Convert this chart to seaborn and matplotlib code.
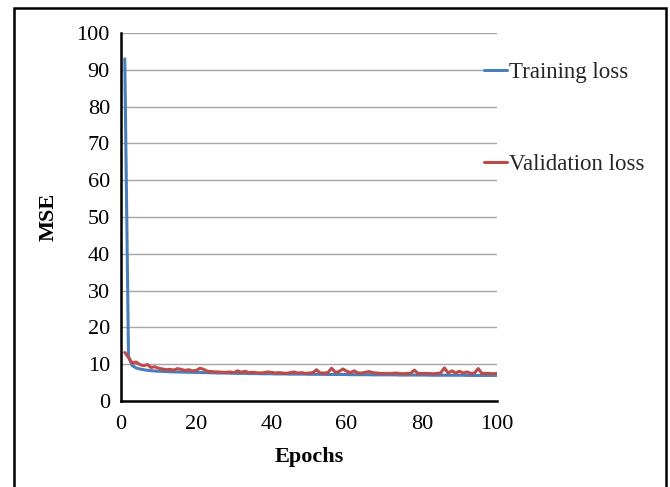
import numpy as np
import pandas as pd
import matplotlib
matplotlib.use("Agg")
import matplotlib.pyplot as plt
import matplotlib.patches as patches
import seaborn as sns

# Values (epochs 1..100)
epochs = list(range(1, 101))
training_loss = [
    93.0, 12.0, 9.6, 9.0, 8.7, 8.5, 8.35, 8.25, 8.15, 8.1,
    8.05, 8.0, 7.95, 7.9, 7.9, 7.85, 7.85, 7.8, 7.8, 7.75,
    7.75, 7.7, 7.7, 7.65, 7.65, 7.6, 7.6, 7.6, 7.55, 7.55,
    7.5, 7.5, 7.5, 7.45, 7.45, 7.45, 7.4, 7.4, 7.4, 7.4,
    7.35, 7.35, 7.35, 7.35, 7.3, 7.3, 7.3, 7.3, 7.3, 7.25,
    7.25, 7.25, 7.25, 7.25, 7.2, 7.2, 7.2, 7.2, 7.2, 7.2,
    7.15, 7.15, 7.15, 7.15, 7.15, 7.15, 7.1, 7.1, 7.1, 7.1,
    7.1, 7.1, 7.1, 7.05, 7.05, 7.05, 7.05, 7.05, 7.05, 7.05,
    7.05, 7.0, 7.0, 7.0, 7.0, 7.0, 7.0, 7.0, 7.0, 7.0,
    7.0, 6.95, 6.95, 6.95, 6.95, 6.95, 6.95, 6.95, 6.95, 6.95,
]
validation_loss = [
    13.2, 11.8, 10.3, 10.6, 9.9, 9.6, 9.9, 9.1, 9.3, 8.9,
    8.7, 8.5, 8.6, 8.4, 8.8, 8.6, 8.3, 8.5, 8.2, 8.3,
    8.9, 8.6, 8.1, 8.0, 7.9, 7.9, 7.8, 7.8, 7.9, 7.7,
    8.2, 7.8, 8.1, 7.7, 7.8, 7.7, 7.6, 7.7, 7.9, 7.8,
    7.6, 7.7, 7.6, 7.5, 7.7, 7.9, 7.6, 7.7, 7.5, 7.6,
    7.7, 8.5, 7.6, 7.6, 7.7, 8.9, 7.8, 8.0, 8.7, 8.1,
    7.7, 8.2, 7.6, 7.6, 7.8, 8.0, 7.7, 7.6, 7.5, 7.5,
    7.5, 7.5, 7.6, 7.5, 7.4, 7.5, 7.5, 8.4, 7.5, 7.5,
    7.5, 7.5, 7.4, 7.5, 7.6, 9.0, 7.6, 8.2, 7.6, 8.1,
    7.6, 7.9, 7.5, 7.6, 8.8, 7.5, 7.5, 7.5, 7.4, 7.5,
]
series_names = ["Training loss", "Validation loss"]
colors = ["#4A7EBB", "#BE4B48"]

df = pd.DataFrame({
    "Epochs": epochs * 2,
    "MSE": training_loss + validation_loss,
    "series": [series_names[0]] * len(epochs) + [series_names[1]] * len(epochs),
})

sns.set_theme(style="white")
plt.rcParams["font.family"] = ["Liberation Serif", "DejaVu Serif"]

fig = plt.figure(figsize=(6.7, 4.87), dpi=100)
ax = fig.add_axes([0.1806, 0.1766, 0.5612, 0.7556])

sns.lineplot(data=df, x="Epochs", y="MSE", hue="series", palette=colors,
             linewidth=2.2, ax=ax)

ax.set_xlim(0, 100)
ax.set_ylim(0, 100)
ax.set_xticks(range(0, 101, 20))
ax.set_yticks(range(0, 101, 10))
ax.yaxis.grid(True, color="#a6a6a6", linewidth=1.0)
ax.set_axisbelow(True)

for side in ["top", "right"]:
    ax.spines[side].set_visible(False)
for side in ["left", "bottom"]:
    ax.spines[side].set_color("black")
    ax.spines[side].set_linewidth(1.8)

ax.tick_params(axis="both", direction="out", length=5, width=1.8,
               colors="black", labelsize=16, pad=5)
ax.tick_params(axis="y", pad=3)

ax.set_xlabel("Epochs", fontsize=16, fontweight="bold", color="black")
ax.set_ylabel("MSE", fontsize=16, fontweight="bold", color="black")
ax.xaxis.set_label_coords(0.5, -0.125)
ax.yaxis.set_label_coords(-0.165, 0.5)

leg = ax.legend(loc="upper left", bbox_to_anchor=(0.722, 0.872),
                bbox_transform=fig.transFigure, frameon=False,
                fontsize=16.5, handlelength=1.0, handletextpad=0.1,
                labelspacing=3.1, borderpad=0, borderaxespad=0)
for line in leg.get_lines():
    line.set_linewidth(2.2)

# outer frame around the figure
fig.patches.append(patches.Rectangle((0.021, -0.02), 0.973, 1.004,
                                     transform=fig.transFigure, fill=False,
                                     edgecolor="black", linewidth=1.8))

fig.savefig("out.png", dpi=100)
plt.close(fig)
